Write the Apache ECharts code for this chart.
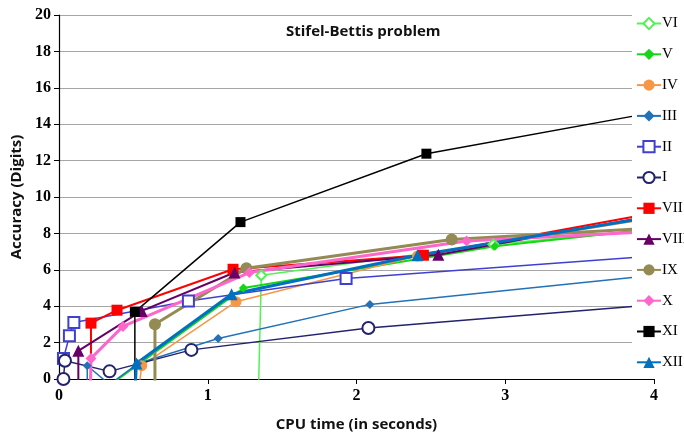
<!DOCTYPE html>
<html><head><meta charset="utf-8">
<script src="https://cdn.jsdelivr.net/npm/echarts@6/dist/echarts.min.js"></script>
<style>html,body{margin:0;padding:0;background:#fff}#c{width:684px;height:437px}</style>
</head><body><div id="c"></div>
<script>
const seriesNames = ['VI','V','IV','III','II','I','VII','VIII','IX','X','XI','XII'];
const xTicks = [0,1,2,3,4];
const yTicks = [0,2,4,6,8,10,12,14,16,18,20];
const dVI   = [[1.34,-1],[1.36,5.7],[2.92,7.4],[4,8.2]];
const dV    = [[0.23,-1],[1.24,5.0],[2.93,7.3],[4,8.25]];
const dIV   = [[0.53,-1],[0.556,0.73],[1.19,4.25],[2.41,6.76],[4,8.85]];
const dIII  = [[0.19,-1],[0.19,0.73],[0.34,-0.3],[0.53,0.85],[1.07,2.23],[2.09,4.1],[4,5.7]];
const dII   = [[0.03,1.13],[0.07,2.37],[0.10,3.1],[0.87,4.29],[1.93,5.52],[4,6.76]];
const dI    = [[0.03,0],[0.04,1.0],[0.34,0.42],[0.89,1.6],[2.08,2.8],[4,4.08]];
const dVII  = [[0.215,-1],[0.215,3.07],[0.39,3.78],[1.17,6.03],[2.45,6.8],[4,9.12]];
const dVIII = [[0.13,-1],[0.13,1.55],[0.556,3.74],[1.18,5.85],[2.55,6.83],[4,8.99]];
const dIX   = [[0.645,-1],[0.645,3.01],[1.26,6.08],[2.64,7.67],[4,8.29]];
const dX    = [[0.21,-1],[0.215,1.13],[0.43,2.89],[1.28,5.85],[2.74,7.58],[4,8.1]];
const dXI   = [[0.51,-1],[0.51,3.69],[1.22,8.62],[2.47,12.38],[4,14.65]];
const dXII  = [[0.51,-1],[0.52,0.85],[1.16,4.66],[2.41,6.8],[4,8.91]];

const dataList = [dVI,dV,dIV,dIII,dII,dI,dVII,dVIII,dIX,dX,dXI,dXII];
const colors  = ['#55F055','#14D814','#F79646','#2272B8','#4040D0','#22226E','#FF0000','#660066','#948A54','#FF66CC','#000000','#0070C0'];
const symbols = ['emptyDiamond','diamond','circle','diamond','emptyRect','emptyCircle','rect','triangle','circle','diamond','rect','triangle'];
const sizes   = [10,9,11,9,11,12,11,12,12,11,10,12];
const widths  = [1.5,2,1.5,1.5,1.5,1.5,2,2,3,3,1.5,3];

const chart = echarts.init(document.getElementById('c'), null, {renderer:'canvas'});
const series = seriesNames.map((n,i)=>({
  name:n, type:'line', data: dataList[i], symbol: symbols[i], symbolSize: sizes[i],
  showAllSymbol:true, clip:true, animation:false,
  lineStyle:{color:colors[i], width:widths[i]},
  itemStyle:{color:colors[i], borderColor:colors[i], borderWidth: symbols[i].startsWith('empty')?1.5:0}
}));
chart.setOption({
  animation:false,
  backgroundColor:'#fff',
  title:{text:'Stifel-Bettis problem', left:280, top:22, padding:[2,6],
    backgroundColor:'#fff',
    textStyle:{fontFamily:'Open Sans', fontWeight:'bold', fontSize:15, color:'#111'}},
  grid:{left:59, right:30, top:15, bottom:57},
  legend:{orient:'vertical', left:632, top:10, itemGap:15.8, itemWidth:24, itemHeight:14,
    padding:[6,10,4,4], backgroundColor:'#fff', z:10,
    textStyle:{fontFamily:'Liberation Serif', fontSize:15, color:'#000', padding:[0,0,0,-4]},
    data: seriesNames},
  xAxis:{type:'value', min:xTicks[0], max:xTicks[xTicks.length-1], interval:1,
    name:'CPU time (in seconds)', nameLocation:'middle', nameGap:38,
    nameTextStyle:{fontFamily:'Open Sans', fontWeight:'bold', fontSize:15, color:'#111'},
    axisLine:{lineStyle:{color:'#000', width:1.2}},
    axisTick:{show:true, length:5, lineStyle:{color:'#000'}},
    axisLabel:{fontFamily:'Liberation Serif', fontWeight:'bold', fontSize:16, color:'#000', margin:9},
    splitLine:{show:false}},
  yAxis:{type:'value', min:yTicks[0], max:yTicks[yTicks.length-1], interval:2,
    name:'Accuracy (Digits)', nameLocation:'middle', nameGap:35, nameRotate:90,
    nameTextStyle:{fontFamily:'Open Sans', fontWeight:'bold', fontSize:15, color:'#111'},
    axisLine:{show:true, lineStyle:{color:'#000', width:1.2}},
    axisTick:{show:true, length:5, lineStyle:{color:'#000'}},
    axisLabel:{fontFamily:'Liberation Serif', fontWeight:'bold', fontSize:16, color:'#000', margin:8},
    splitLine:{show:true, lineStyle:{color:'#A6A6A6', width:1.2}}},
  series: series
});
</script></body></html>
